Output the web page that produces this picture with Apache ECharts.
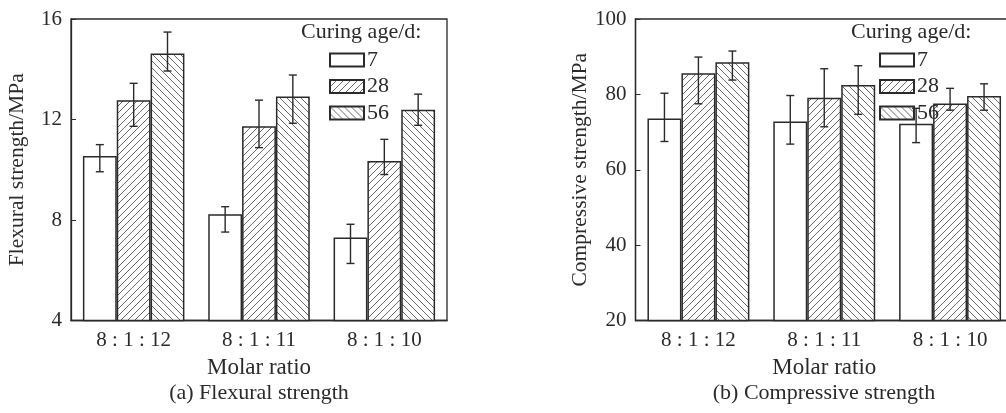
<!DOCTYPE html>
<html>
<head>
<meta charset="utf-8">
<script src="https://cdn.jsdelivr.net/npm/echarts@6/dist/echarts.min.js"></script>
<style>
html, body { margin: 0; padding: 0; background: #fff; }
#chart { width: 1006px; height: 413px; }
</style>
</head>
<body>
<div id="chart"></div>
<script>
// data
var ratios = ['8 : 1 : 12', '8 : 1 : 11', '8 : 1 : 10'];
var ages = ['7', '28', '56'];

// (a) flexural strength, MPa
var flex7 = [10.55, 8.23, 7.3];
var flex28 = [12.77, 11.73, 10.35];
var flex56 = [14.63, 12.92, 12.39];
// error bar ends [low, high]
var flexErr7 = [[9.92, 11.0], [7.52, 8.53], [6.27, 7.83]];
var flexErr28 = [[11.73, 13.44], [10.88, 12.77], [9.81, 11.21]];
var flexErr56 = [[13.93, 15.48], [11.85, 13.77], [11.77, 13.01]];

// (b) compressive strength, MPa
var comp7 = [73.6, 72.8, 72.2];
var comp28 = [85.6, 79.1, 77.6];
var comp56 = [88.5, 82.5, 79.6];
var compErr7 = [[67.5, 80.3], [66.8, 79.7], [67.2, 76.3]];
var compErr28 = [[77.5, 89.9], [71.4, 86.8], [75.8, 81.6]];
var compErr56 = [[83.8, 91.5], [74.7, 87.6], [75.8, 82.8]];

var fontName = 'Liberation Serif';
var ink = '#2a2a2a';

// hatch patterns
function hatch(dir) {
	var c = document.createElement('canvas');
	c.width = 7; c.height = 7;
	var ctx = c.getContext('2d');
	ctx.fillStyle = '#fff';
	ctx.fillRect(0, 0, 7, 7);
	ctx.strokeStyle = '#444';
	ctx.lineWidth = 0.8;
	ctx.beginPath();
	if (dir > 0) {
		ctx.moveTo(-1, 8); ctx.lineTo(8, -1);
		ctx.moveTo(-8, 8); ctx.lineTo(1, -1);
		ctx.moveTo(6, 8); ctx.lineTo(15, -1);
	} else {
		ctx.moveTo(-1, -1); ctx.lineTo(8, 8);
		ctx.moveTo(-8, -1); ctx.lineTo(1, 8);
		ctx.moveTo(6, -1); ctx.lineTo(15, 8);
	}
	ctx.stroke();
	return { image: c, repeat: 'repeat' };
}
var fills = ['#fff', hatch(1), hatch(-1)];

var catGap = 0.19;

function barSeries(name, data, idx, g) {
	return {
		name: name,
		type: 'bar',
		xAxisIndex: g, yAxisIndex: g,
		data: data,
		barGap: '0%',
		barCategoryGap: (catGap * 100) + '%',
		itemStyle: { color: fills[idx], borderColor: ink, borderWidth: 1.5 },
		emphasis: { disabled: true },
		z: 2
	};
}

function errSeries(errs, idx, g) {
	var rows = errs.map(function (e, i) { return [i, e[0], e[1]]; });
	return {
		type: 'custom',
		xAxisIndex: g, yAxisIndex: g,
		data: rows,
		encode: { x: 0, y: [1, 2] },
		z: 5,
		silent: true,
		renderItem: function (params, api) {
			var band = api.size([1, 0])[0];
			var bw = band * (1 - catGap) / 3;
			var lo = api.coord([api.value(0), api.value(1)]);
			var hi = api.coord([api.value(0), api.value(2)]);
			var x = lo[0] + (idx - 1) * bw;
			var cap = 4;
			var st = { stroke: ink, lineWidth: 1.4 };
			return {
				type: 'group',
				children: [
					{ type: 'line', shape: { x1: x, y1: lo[1], x2: x, y2: hi[1] }, style: st },
					{ type: 'line', shape: { x1: x - cap, y1: lo[1], x2: x + cap, y2: lo[1] }, style: st },
					{ type: 'line', shape: { x1: x - cap, y1: hi[1], x2: x + cap, y2: hi[1] }, style: st }
				]
			};
		}
	};
}

function xAxisOf(g) {
	return {
		type: 'category', gridIndex: g, data: ratios,
		name: 'Molar ratio', nameLocation: 'middle', nameGap: 36,
		nameTextStyle: { fontFamily: fontName, fontSize: 23, color: ink },
		axisLine: { lineStyle: { color: ink, width: 1.3 } },
		axisTick: { show: false },
		axisLabel: { fontFamily: fontName, fontSize: 21, color: ink, margin: 9 }
	};
}

function yAxisOf(g, name, min, max, step) {
	return {
		type: 'value', gridIndex: g, min: min, max: max, interval: step,
		name: name, nameLocation: 'middle', nameGap: 43,
		nameTextStyle: { fontFamily: fontName, fontSize: 21.5, color: ink },
		axisLine: { show: true, lineStyle: { color: ink, width: 1.3 } },
		axisTick: { show: true, inside: true, length: 5, lineStyle: { color: ink } },
		axisLabel: { fontFamily: fontName, fontSize: 21, color: ink, margin: 9 },
		splitLine: { show: false }
	};
}

function legendOf(left) {
	return {
		orient: 'vertical', left: left, top: 49,
		data: ages,
		icon: 'rect',
		itemWidth: 34, itemHeight: 13, itemGap: 4.5,
		selectedMode: false,
		textStyle: { fontFamily: fontName, fontSize: 22, color: ink, lineHeight: 14, padding: [0, 0, 0, -2] },
		padding: 0
	};
}

var myChart = echarts.init(document.getElementById('chart'), null, { renderer: 'canvas' });

var option = {
	animation: false,
	backgroundColor: '#fff',
	grid: [
		{ left: 71, top: 19, width: 376, height: 301.5, show: true, borderColor: ink, borderWidth: 1.3, outerBoundsMode: 'none' },
		{ left: 635.5, top: 19, width: 377.5, height: 301.5, show: true, borderColor: ink, borderWidth: 1.3, outerBoundsMode: 'none' }
	],
	xAxis: [xAxisOf(0), xAxisOf(1)],
	yAxis: [
		yAxisOf(0, 'Flexural strength/MPa', 4, 16, 4),
		yAxisOf(1, 'Compressive strength/MPa', 20, 100, 20)
	],
	legend: [legendOf(329), legendOf(879)],
	graphic: [
		{ type: 'text', left: 301, top: 21, style: { text: 'Curing age/d:', font: '22px "Liberation Serif"', fill: ink } },
		{ type: 'text', left: 851, top: 21, style: { text: 'Curing age/d:', font: '22px "Liberation Serif"', fill: ink } },
		{ type: 'text', x: 259, y: 393, style: { text: '(a) Flexural strength', font: '22px "Liberation Serif"', fill: ink, align: 'center', verticalAlign: 'middle' } },
		{ type: 'text', x: 824, y: 393, style: { text: '(b) Compressive strength', font: '22px "Liberation Serif"', fill: ink, align: 'center', verticalAlign: 'middle' } }
	],
	series: [
		barSeries('7', flex7, 0, 0),
		barSeries('28', flex28, 1, 0),
		barSeries('56', flex56, 2, 0),
		errSeries(flexErr7, 0, 0),
		errSeries(flexErr28, 1, 0),
		errSeries(flexErr56, 2, 0),
		barSeries('7', comp7, 0, 1),
		barSeries('28', comp28, 1, 1),
		barSeries('56', comp56, 2, 1),
		errSeries(compErr7, 0, 1),
		errSeries(compErr28, 1, 1),
		errSeries(compErr56, 2, 1)
	]
};

myChart.setOption(option);
</script>
</body>
</html>
